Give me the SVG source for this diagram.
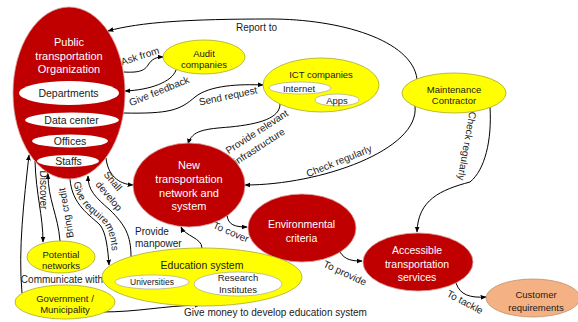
<svg xmlns="http://www.w3.org/2000/svg" width="578" height="322" viewBox="0 0 578 322">
<style>
text{font-family:"Liberation Sans",Arial,sans-serif;text-anchor:middle}
.red{fill:#C00000;stroke:#d9a0a0;stroke-width:0.8}
.yel{fill:#FFFF00;stroke:#a8a830;stroke-width:0.8}
.cus{fill:#F4B183;stroke:#c0906a;stroke-width:0.8}
.win{fill:#fff;stroke:none}
.wiy{fill:#fff;stroke:#999;stroke-width:0.6}
.tw{fill:#fff;font-size:11px}
.tws{fill:#fff;font-size:10.5px}
.tb{fill:#1a1a1a;font-size:10.5px}
.tbs{fill:#1a1a1a;font-size:9.5px}
.tbx{fill:#1a1a1a;font-size:8.5px}
.lbl{fill:#1a1a1a;font-size:10px}
.c{fill:none;stroke:#000;stroke-width:1;marker-end:url(#ah)}
</style>
<defs>
<marker id="ah" viewBox="0 0 10 10" refX="9" refY="5" markerWidth="6" markerHeight="6" markerUnits="userSpaceOnUse" orient="auto"><path d="M0,1 L10,5 L0,9z" fill="#000"/></marker>
<path id="grq" d="M74,182 C76,205 93,213 103,223 C110,231 112,242 112,260"/>
</defs>

<g id="connectors">
<path class="c" d="M417,79 C412,40 340,19 270,19 C190,19 140,22 108,31"/>
<path class="c" d="M124,72 C140,73 145,70 148,65 C152,59 156,57 163,57"/>
<path class="c" d="M176,70 C172,82 150,90 125,91"/>
<path class="c" d="M123,113 C170,114 180,110 195,97 C210,85 240,84 263,85"/>
<path class="c" d="M280,104 C280,118 260,124 230,127 C205,129 192,130 188,144"/>
<path class="c" d="M415,106 C420,150 320,185 245,185"/>
<path class="c" d="M490,107 C492,140 485,170 470,182 C440,190 418,200 417,232"/>
<path class="c" d="M227,215 C228,225 235,227 247,227"/>
<path class="c" d="M340,252 C345,260 352,261 362,261"/>
<path class="c" d="M456,283 C460,295 470,298 486,297"/>
<path class="c" d="M106,158 C108,175 118,184 133,185"/>
<path class="c" d="M131,257 C131,235 125,225 110,210 C95,197 88,190 88,176"/>
<path class="c" d="M202,248 C202,238 185,236 181,227"/>
<path class="c" d="M35,161 C36,195 43,215 43,242"/>
<path class="c" d="M60,241 C58,215 48,200 48,174"/>
<path class="c" d="M70,179 C72,205 90,215 100,225 C106,232 108,250 109,265"/>
<path class="c" d="M22,293 C18,250 24,200 29,155"/>
<path class="c" d="M100,312 C140,312 160,306 200,305"/>
</g>

<g id="labels">
<text class="lbl" x="256.5" y="31">Report to</text>
<text class="lbl" transform="translate(140,56) rotate(-18)" y="3.5">Ask from</text>
<text class="lbl" transform="translate(159,91) rotate(-22)" y="3.5">Give feedback</text>
<text class="lbl" transform="translate(228,96) rotate(-12)" y="3.5">Send request</text>
<text class="lbl" transform="translate(258,139) rotate(-33)"><tspan x="3" y="-3.3">Provide relevant</tspan><tspan x="-3" y="10.4">infrastructure</tspan></text>
<text class="lbl" transform="translate(339,161) rotate(-22)" y="3.5">Check regularly</text>
<text class="lbl" transform="translate(467,146) rotate(100)" y="3.5">Check regularly</text>
<text class="lbl" transform="translate(231,232) rotate(23)" y="3.5">To cover</text>
<text class="lbl" transform="translate(345,273) rotate(25)" y="3.5">To provide</text>
<text class="lbl" transform="translate(465,302) rotate(28)" y="3.5">To tackle</text>
<text class="lbl" transform="translate(113,181) rotate(50)"><tspan x="0" y="3.5">Shall</tspan><tspan x="8.9" y="16.2">develop</tspan></text>
<text class="lbl" x="135" y="235" style="text-anchor:start">Provide</text>
<text class="lbl" x="135" y="246.5" style="text-anchor:start">manpower</text>
<text class="lbl" transform="translate(43,190) rotate(90)" y="3.5">Discover</text>
<text class="lbl" transform="translate(66,213) rotate(-100)" y="3.5">Bring credit</text>
<text class="lbl" style="text-anchor:start"><textPath href="#grq">Give requirements</textPath></text>
<text class="lbl" x="62" y="283">Communicate with</text>
<text class="lbl" x="275.5" y="316">Give money to develop education system</text>
</g>

<g id="org">
<ellipse class="red" cx="69" cy="93" rx="56" ry="86"/>
<text class="tw" x="69" y="46">Public</text>
<text class="tw" x="69" y="59.5">transportation</text>
<text class="tw" x="69" y="73">Organization</text>
<g id="departments"><ellipse class="win" cx="69" cy="93" rx="50" ry="12"/><text class="tb" x="68.5" y="97">Departments</text></g>
<g id="datacenter"><ellipse class="win" cx="72" cy="120" rx="47" ry="7.5"/><text class="tb" x="71.5" y="124">Data center</text></g>
<g id="offices"><ellipse class="win" cx="70" cy="141" rx="38" ry="6.5"/><text class="tb" x="70" y="145">Offices</text></g>
<g id="staffs"><ellipse class="win" cx="68" cy="161" rx="31" ry="6"/><text class="tb" x="68.5" y="165">Staffs</text></g>
</g>

<g id="audit">
<ellipse class="yel" cx="204" cy="57" rx="41" ry="17"/>
<text class="tbs" x="204" y="57">Audit</text>
<text class="tbs" x="204" y="68">companies</text>
</g>

<g id="ict">
<ellipse class="yel" cx="321" cy="85" rx="58" ry="27"/>
<text class="tbs" x="321" y="77.5">ICT companies</text>
<g id="internet"><ellipse class="wiy" cx="300" cy="88" rx="31" ry="6"/><text class="tbs" x="299" y="92">Internet</text></g>
<g id="apps"><ellipse class="wiy" cx="337" cy="100" rx="22" ry="6"/><text class="tbs" x="337" y="103.5">Apps</text></g>
</g>

<g id="maintenance">
<ellipse class="yel" cx="454" cy="93" rx="52" ry="20"/>
<text class="tbs" x="454" y="92.5">Maintenance</text>
<text class="tbs" x="454" y="103.5">Contractor</text>
</g>

<g id="newtransport">
<ellipse class="red" cx="189" cy="185" rx="56" ry="42"/>
<text class="tw" x="189" y="169">New</text>
<text class="tw" x="189" y="183">transportation</text>
<text class="tw" x="189" y="196.5">network and</text>
<text class="tw" x="189" y="210">system</text>
</g>

<g id="environmental">
<ellipse class="red" cx="302" cy="228" rx="54" ry="34"/>
<text class="tws" x="301.5" y="228">Environmental</text>
<text class="tws" x="301.5" y="241.5">criteria</text>
</g>

<g id="accessible">
<ellipse class="red" cx="418" cy="262" rx="55" ry="29"/>
<text class="tws" x="417" y="254">Accessible</text>
<text class="tws" x="417" y="267.5">transportation</text>
<text class="tws" x="417" y="281">services</text>
</g>

<g id="customer">
<ellipse class="cus" cx="533" cy="298" rx="47" ry="19"/>
<text class="tbs" x="536" y="297.5">Customer</text>
<text class="tbs" x="536" y="310.5">requirements</text>
</g>

<g id="potential">
<ellipse class="yel" cx="61" cy="257" rx="34" ry="16"/>
<text class="tbs" x="61" y="258">Potential</text>
<text class="tbs" x="61" y="269">networks</text>
</g>

<g id="government">
<ellipse class="yel" cx="65" cy="302" rx="50" ry="17"/>
<text class="tbs" x="65" y="302">Government /</text>
<text class="tbs" x="65" y="313">Municipality</text>
</g>

<g id="education">
<ellipse class="yel" cx="202" cy="277" rx="100" ry="29"/>
<text class="tb" x="202" y="269">Education system</text>
<g id="universities"><ellipse class="wiy" cx="152" cy="282" rx="37" ry="7"/><text class="tbx" x="152" y="285">Universities</text></g>
<g id="research"><ellipse class="wiy" cx="238" cy="284" rx="44" ry="12"/><text class="tbs" x="238" y="280.5">Research</text><text class="tbs" x="238" y="293">Institutes</text></g>
</g>
</svg>
